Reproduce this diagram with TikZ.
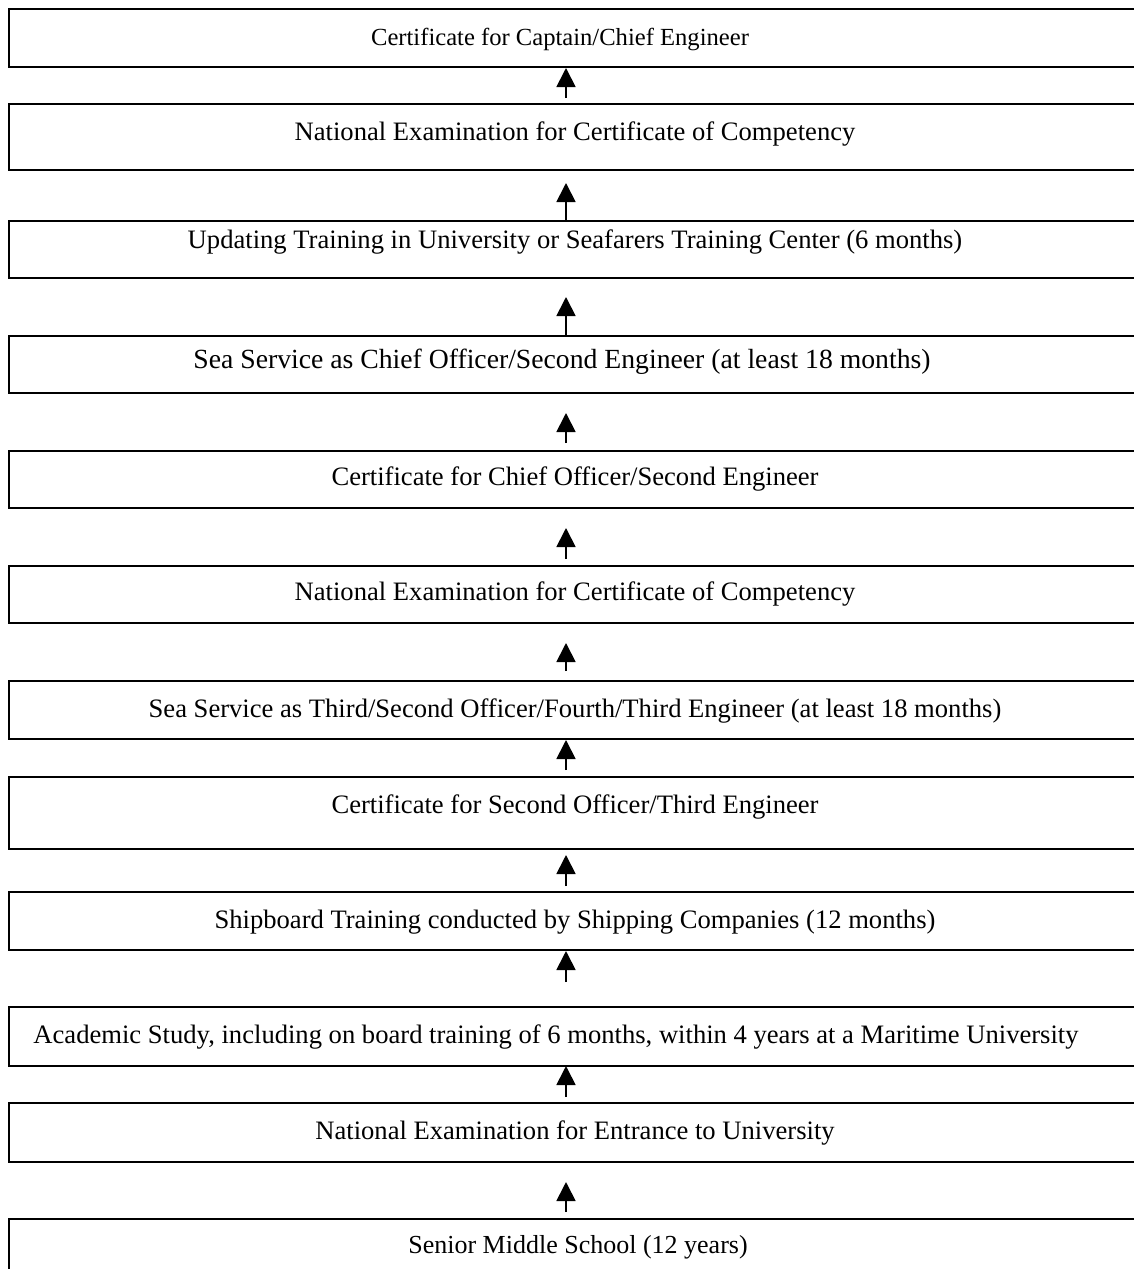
\documentclass[tikz,border=0pt]{standalone}
\usepackage{fontspec}
\setmainfont{Liberation Serif}
\usetikzlibrary{arrows.meta}
\begin{document}
\begin{tikzpicture}[x=0.5pt,y=-0.5pt,
  box/.style={draw, line width=0.9pt, inner sep=0pt, outer sep=0pt, minimum width=565.5pt},
  lbl/.style={anchor=base, inner sep=0pt, font=\fontsize{13.3pt}{15pt}\selectfont},
  arr/.style={line width=0.9pt, -{Triangle[length=9.5pt,width=9.5pt]}}]
\clip (0,0) rectangle (1134,1269);
% stages, top to bottom
\node[box, minimum height=29pt]   (b1)  at (574.5,38)     {};
\node[box, minimum height=33pt]   (b2)  at (574.5,137)    {};
\node[box, minimum height=28.5pt] (b3)  at (574.5,249.5)  {};
\node[box, minimum height=28.5pt] (b4)  at (574.5,364.5)  {};
\node[box, minimum height=28.5pt] (b5)  at (574.5,479.5)  {};
\node[box, minimum height=28.5pt] (b6)  at (574.5,594.5)  {};
\node[box, minimum height=29pt]   (b7)  at (574.5,710)    {};
\node[box, minimum height=36pt]   (b8)  at (574.5,813)    {};
\node[box, minimum height=29pt]   (b9)  at (574.5,921)    {};
\node[box, minimum height=29.5pt] (b10) at (574.5,1036.5) {};
\node[box, minimum height=29.5pt] (b11) at (574.5,1132.5) {};
\node[box, minimum height=35.5pt] (b12) at (574.5,1254.5) {};
% stage labels
\node[lbl, font=\fontsize{12.3pt}{14pt}\selectfont] (t1) at (560,45) {Certificate for Captain/Chief Engineer};
\node[lbl] (t2)  at (575,140)  {National Examination for Certificate of Competency};
\node[lbl] (t3)  at (575,248)  {Updating Training in University or Seafarers Training Center (6 months)};
\node[lbl, font=\fontsize{13.85pt}{16pt}\selectfont] (t4) at (562,368) {Sea Service as Chief Officer/Second Engineer (at least 18 months)};
\node[lbl] (t5)  at (575,485)  {Certificate for Chief Officer/Second Engineer};
\node[lbl] (t6)  at (575,600)  {National Examination for Certificate of Competency};
\node[lbl] (t7)  at (575,717)  {Sea Service as Third/Second Officer/Fourth/Third Engineer (at least 18 months)};
\node[lbl] (t8)  at (575,813)  {Certificate for Second Officer/Third Engineer};
\node[lbl] (t9)  at (575,928)  {Shipboard Training conducted by Shipping Companies (12 months)};
\node[lbl] (t10) at (556,1043) {Academic Study, including on board training of 6 months, within 4 years at a Maritime University};
\node[lbl] (t11) at (575,1139) {National Examination for Entrance to University};
\node[lbl, font=\fontsize{13pt}{15pt}\selectfont] (t12) at (578,1253) {Senior Middle School (12 years)};
% arrow ends between stages
\coordinate (s1)  at (566,98);   \coordinate (e1)  at (566,68);
\coordinate (s2)  at (566,220);  \coordinate (e2)  at (566,183);
\coordinate (s3)  at (566,335);  \coordinate (e3)  at (566,297);
\coordinate (s4)  at (566,443);  \coordinate (e4)  at (566,413);
\coordinate (s5)  at (566,559);  \coordinate (e5)  at (566,528);
\coordinate (s6)  at (566,671);  \coordinate (e6)  at (566,643);
\coordinate (s7)  at (566,770);  \coordinate (e7)  at (566,740);
\coordinate (s8)  at (566,886);  \coordinate (e8)  at (566,855);
\coordinate (s9)  at (566,982);  \coordinate (e9)  at (566,951);
\coordinate (s10) at (566,1097); \coordinate (e10) at (566,1066);
\coordinate (s11) at (566,1212); \coordinate (e11) at (566,1182);
\foreach \i in {1,...,11} { \draw[arr] (s\i) -- (e\i); }
\end{tikzpicture}
\end{document}
